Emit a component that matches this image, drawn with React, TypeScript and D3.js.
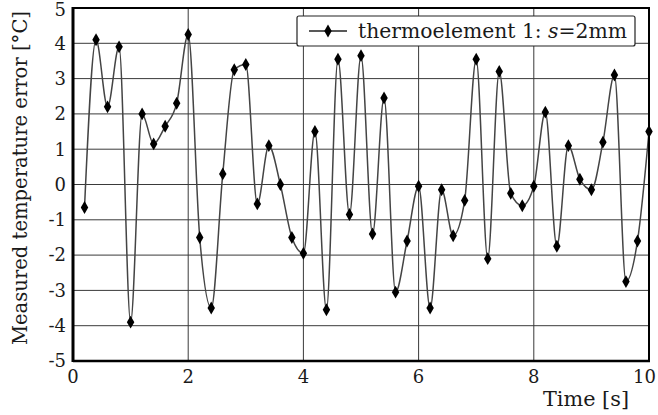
import React from "react";
import * as d3 from "d3";

// Measured temperature error of thermoelement 1 (s = 2 mm), sampled every 0.2 s
const times = [
  0.2, 0.4, 0.6, 0.8, 1.0, 1.2, 1.4, 1.6, 1.8, 2.0,
  2.2, 2.4, 2.6, 2.8, 3.0, 3.2, 3.4, 3.6, 3.8, 4.0,
  4.2, 4.4, 4.6, 4.8, 5.0, 5.2, 5.4, 5.6, 5.8, 6.0,
  6.2, 6.4, 6.6, 6.8, 7.0, 7.2, 7.4, 7.6, 7.8, 8.0,
  8.2, 8.4, 8.6, 8.8, 9.0, 9.2, 9.4, 9.6, 9.8, 10.0,
];
const errors = [
  -0.65, 4.1, 2.2, 3.9, -3.9, 2.0, 1.15, 1.65, 2.3, 4.25,
  -1.5, -3.5, 0.3, 3.25, 3.4, -0.55, 1.1, 0.0, -1.5, -1.95,
  1.5, -3.55, 3.55, -0.85, 3.65, -1.4, 2.45, -3.05, -1.6, -0.05,
  -3.5, -0.15, -1.45, -0.45, 3.55, -2.1, 3.2, -0.25, -0.6, -0.05,
  2.05, -1.75, 1.1, 0.15, -0.15, 1.2, 3.1, -2.75, -1.6, 1.5,
];
const xTicks = [0, 2, 4, 6, 8, 10];
const yTicks = [-5, -4, -3, -2, -1, 0, 1, 2, 3, 4, 5];
const seriesLabel = "thermoelement 1: ";

const W = 658;
const H = 415;
const left = 73;
const right = 649;
const top = 8;
const bottom = 361;
const serif = "DejaVu Serif, Liberation Serif, serif";
const ink = "#1a1a1a";

export default function App() {
  const x = d3.scaleLinear().domain([0, 10]).range([left, right]);
  const y = d3.scaleLinear().domain([-5, 5]).range([bottom, top]);
  const data = times.map((t, i) => ({ t, v: errors[i] }));
  const line = d3
    .line<{ t: number; v: number }>()
    .x((d) => x(d.t))
    .y((d) => y(d.v))
    .curve(d3.curveMonotoneX);
  const diamond = d3.symbol().type(d3.symbolDiamond).size(48)() as string;

  return (
    <svg width={W} height={H} style={{ position: "absolute", left: 0, top: 0, background: "#fff" }}>
      {/* grid */}
      {yTicks.map((v) => (
        <line key={"gy" + v} x1={left} x2={right} y1={y(v)} y2={y(v)} stroke="#3a3a3a" strokeWidth={1} />
      ))}
      {xTicks.map((v) => (
        <line key={"gx" + v} x1={x(v)} x2={x(v)} y1={top} y2={bottom} stroke="#3a3a3a" strokeWidth={1} />
      ))}

      {/* series */}
      <path d={line(data) ?? ""} fill="none" stroke="#444" strokeWidth={1.5} />
      {data.map((d, i) => (
        <path key={"m" + i} d={diamond} transform={`translate(${x(d.t)},${y(d.v)})`} fill="#000" />
      ))}

      {/* frame */}
      <rect x={left} y={top} width={right - left} height={bottom - top} fill="none" stroke="#000" strokeWidth={2} />
      <line x1={left} x2={left} y1={top - 1} y2={bottom + 1} stroke="#000" strokeWidth={3} />
      <line x1={left} x2={right + 1} y1={bottom} y2={bottom} stroke="#000" strokeWidth={2.5} />

      {/* y tick labels */}
      {yTicks.map((v) => (
        <text key={"ty" + v} x={66} y={Math.max(y(v), 10)} dy="0.35em" textAnchor="end"
          fontFamily={serif} fontSize={18} fill={ink}>
          {v}
        </text>
      ))}
      {/* x tick labels; the last one is kept inside the page edge */}
      {xTicks.map((v, i) => {
        const last = i === xTicks.length - 1;
        return (
          <text key={"tx" + v} x={last ? 656 : x(v)} y={383} textAnchor={last ? "end" : "middle"}
            fontFamily={serif} fontSize={18} fill={ink}>
            {v}
          </text>
        );
      })}

      {/* axis titles */}
      <text x={543} y={406} fontFamily={serif} fontSize={20} fill={ink} textLength={86} lengthAdjust="spacingAndGlyphs">
        Time [s]
      </text>
      <text
        transform={`translate(27,178) rotate(-90)`}
        textAnchor="middle"
        fontFamily={serif}
        fontSize={20}
        fill={ink}
        textLength={334}
        lengthAdjust="spacingAndGlyphs"
      >
        Measured temperature error [°C]
      </text>

      {/* legend */}
      <rect x={297} y={16} width={338} height={30} rx={2} fill="#fff" stroke="#222" strokeWidth={1.2} />
      <line x1={309} x2={347} y1={31} y2={31} stroke="#222" strokeWidth={1.6} />
      <path d={diamond} transform="translate(328,31)" fill="#000" />
      <text x={358} y={38} fontFamily={serif} fontSize={20} fill={ink} textLength={269} lengthAdjust="spacingAndGlyphs">
        {seriesLabel}
        <tspan fontStyle="italic">s</tspan>=2mm
      </text>
    </svg>
  );
}
